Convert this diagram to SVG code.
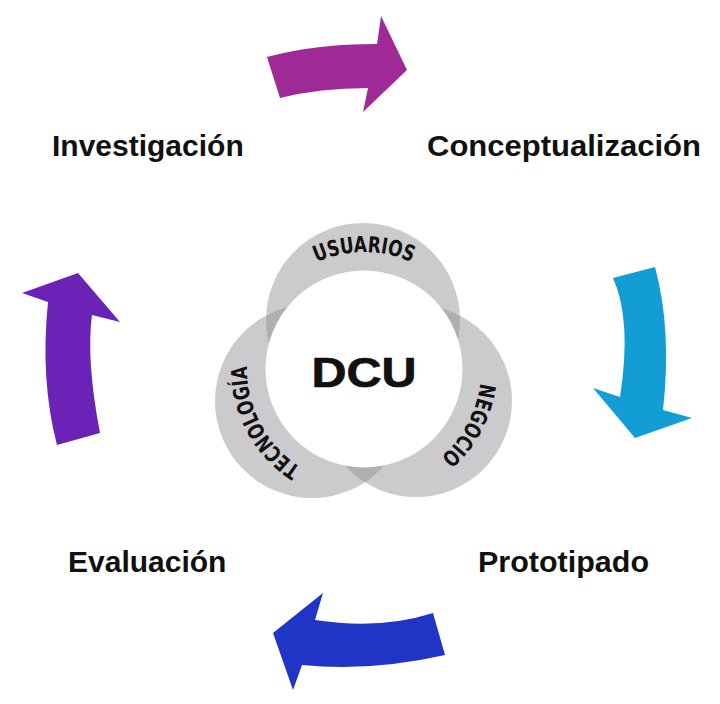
<svg xmlns="http://www.w3.org/2000/svg" width="720" height="704" viewBox="0 0 720 704">
  <style>
    .stage { font-family: "Liberation Sans", Arial, sans-serif; font-weight: bold; font-size: 30px; fill: #111111; }
    .ring { fill: #8e8e92; fill-opacity: 0.46; }
    .ringlbl { font-family: "DejaVu Sans Condensed", "DejaVu Sans", sans-serif; font-weight: bold; font-size: 22px; fill: #111111; }
    .dcu { font-family: "Liberation Sans", Arial, sans-serif; font-weight: bold; font-size: 42px; fill: #111111; stroke: #111111; stroke-width: 0.7; }
  </style>
  <defs>
    <path id="arcTop" d="M274.4,293.8 A117,117 0 0 1 453.6,293.8"/>
    <path id="arcRight" d="M472.5,325.1 A117,117 0 0 1 388.3,483.4"/>
    <path id="arcLeft" d="M339.7,483.4 A117,117 0 0 1 255.5,325.1"/>
  </defs>
  <rect width="720" height="704" fill="#ffffff"/>

  <g id="center-dcu">
    <circle class="ring" cx="363" cy="320" r="97"/>
    <circle class="ring" cx="312" cy="401" r="97"/>
    <circle class="ring" cx="416" cy="401" r="96"/>
    <circle cx="364" cy="369" r="98.5" fill="#ffffff"/>
    <text class="ringlbl"><textPath href="#arcTop" startOffset="50%" text-anchor="middle" textLength="98" lengthAdjust="spacingAndGlyphs">USUARIOS</textPath></text>
    <text class="ringlbl"><textPath href="#arcRight" startOffset="50%" text-anchor="middle" textLength="86" lengthAdjust="spacingAndGlyphs">NEGOCIO</textPath></text>
    <text class="ringlbl"><textPath href="#arcLeft" startOffset="50%" text-anchor="middle" textLength="120" lengthAdjust="spacingAndGlyphs">TECNOLOGÍA</textPath></text>
    <text class="dcu" x="364" y="387" text-anchor="middle" textLength="105" lengthAdjust="spacingAndGlyphs">DCU</text>
  </g>

  <g id="connectors">
    <path id="arrow-top" fill="#9d2a97" d="M267,57 Q315,44 377,44 L381,16 L407,70 L363,112 L368,88 Q320,88 280,98 Z"/>
    <path id="arrow-right" fill="#139dd5" d="M613,278 L655,267 Q672,330 663,410 L692,418 L635,438 L593,388 L620,397 Q632,320 613,278 Z"/>
    <path id="arrow-bottom" fill="#2034c5" d="M433,613 L445,655 Q370,672 302,665 L293,690 L273,633 L323,593 L315,620 Q380,630 433,613 Z"/>
    <path id="arrow-left" fill="#6a23b6" d="M57,445 L100,433 Q86,360 92,315 L120,322 L78,273 L22,293 L48,302 Q40,380 57,445 Z"/>
  </g>

  <g id="node-investigacion">
    <text class="stage" x="52" y="156">Investigación</text>
  </g>
  <g id="node-conceptualizacion">
    <text class="stage" x="427" y="156" textLength="274" lengthAdjust="spacingAndGlyphs">Conceptualización</text>
  </g>
  <g id="node-prototipado">
    <text class="stage" x="478" y="572" textLength="171" lengthAdjust="spacingAndGlyphs">Prototipado</text>
  </g>
  <g id="node-evaluacion">
    <text class="stage" x="68" y="572">Evaluación</text>
  </g>
</svg>
